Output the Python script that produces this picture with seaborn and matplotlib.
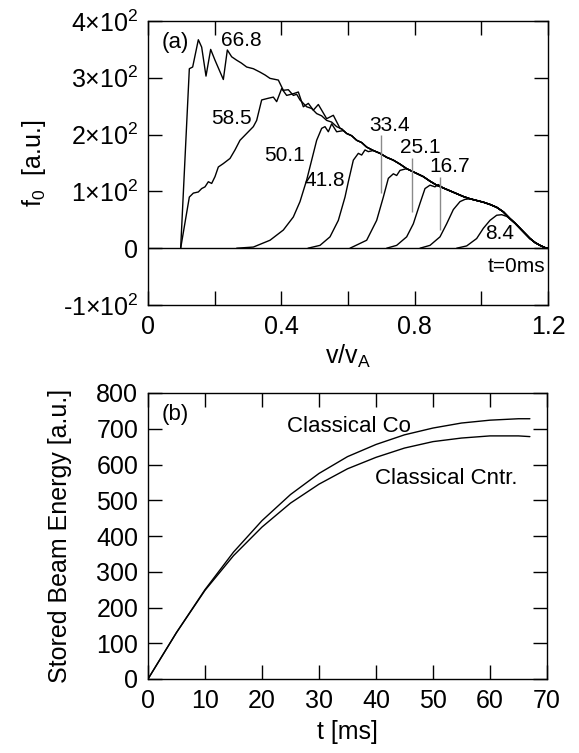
import matplotlib
matplotlib.use("Agg")
import matplotlib.pyplot as plt
import pandas as pd
import seaborn as sns

# ---------------- Panel (a): f0 vs v/vA at several times ----------------
# full 66.8 ms curve (also the common envelope that the other curves join)
env_668 = [(0.098, 0), (0.124, 316), (0.134, 319), (0.151, 367), (0.161, 354), (0.174, 303),
           (0.188, 350), (0.201, 331), (0.226, 297), (0.238, 349), (0.251, 337), (0.266, 331),
           (0.280, 326), (0.296, 319), (0.316, 316), (0.336, 310), (0.351, 305), (0.366, 299),
           (0.391, 296), (0.406, 278), (0.421, 279), (0.436, 269), (0.446, 271), (0.456, 261),
           (0.476, 249), (0.491, 246), (0.506, 237), (0.521, 233), (0.536, 225), (0.551, 222),
           (0.566, 214), (0.581, 210), (0.596, 202), (0.611, 198), (0.626, 190), (0.641, 186),
           (0.656, 178), (0.676, 172), (0.696, 167), (0.716, 160), (0.736, 155), (0.756, 148),
           (0.776, 140), (0.801, 133), (0.826, 126), (0.846, 118), (0.866, 111), (0.886, 106),
           (0.906, 101), (0.926, 96), (0.946, 91), (0.966, 87), (0.986, 84), (1.006, 81),
           (1.026, 77), (1.046, 72), (1.066, 64), (1.086, 52), (1.101, 44), (1.116, 35),
           (1.131, 26), (1.146, 17), (1.161, 10), (1.176, 5), (1.191, 1), (1.200, 0)]

rise_585 = [(0.098, 0), (0.124, 90), (0.136, 97), (0.151, 99), (0.161, 105), (0.171, 108),
            (0.181, 117), (0.191, 114), (0.201, 126), (0.211, 143), (0.226, 149), (0.246, 158),
            (0.261, 173), (0.276, 190), (0.296, 202), (0.316, 214), (0.326, 225), (0.341, 261),
            (0.361, 264), (0.376, 266), (0.386, 258), (0.401, 281), (0.416, 269), (0.436, 272),
            (0.451, 275), (0.466, 249), (0.481, 255), (0.496, 243), (0.511, 253), (0.536, 228),
            (0.556, 234), (0.576, 211)]
rise_501 = [(0.266, 0), (0.316, 2), (0.366, 14), (0.406, 32), (0.436, 55), (0.456, 82),
            (0.476, 120), (0.491, 155), (0.506, 190), (0.521, 211), (0.531, 214), (0.541, 205),
            (0.551, 219), (0.566, 205), (0.586, 207)]
rise_418 = [(0.480, 0), (0.516, 5), (0.546, 20), (0.571, 49), (0.591, 90), (0.601, 117),
            (0.616, 155), (0.631, 167), (0.641, 164), (0.651, 173), (0.661, 170)]
rise_334 = [(0.606, 0), (0.656, 14), (0.686, 49), (0.706, 90), (0.721, 123), (0.736, 131),
            (0.746, 128), (0.756, 137)]
rise_251 = [(0.716, 0), (0.746, 5), (0.776, 20), (0.796, 43), (0.816, 79), (0.831, 105),
            (0.846, 111), (0.861, 108), (0.871, 112)]
rise_167 = [(0.816, 0), (0.846, 5), (0.876, 20), (0.896, 43), (0.916, 68), (0.936, 82),
            (0.951, 86)]
rise_84 = [(0.926, 0), (0.956, 4), (0.986, 17), (1.006, 35), (1.026, 49), (1.046, 58),
           (1.061, 59), (1.076, 56)]
curve_0 = [(0.0, 0), (1.2, 0)]

time_labels = ["66.8", "58.5", "50.1", "41.8", "33.4", "25.1", "16.7", "8.4", "t=0ms"]
label_v = [0.281, 0.251, 0.411, 0.531, 0.726, 0.816, 0.906, 1.056, 1.192]
label_f = [366, 228, 164, 120, 216, 178, 143, 26, -33]

gray_v = [0.700, 0.793, 0.876]
gray_lo = [97, 64, 32]
gray_hi = [200, 158, 126]

# ---------------- Panel (b): stored beam energy ----------------
t_co = [0, 5, 10, 15, 20, 25, 30, 35, 40, 45, 50, 55, 60, 65, 67]
E_co = [0, 130, 250, 355, 443, 516, 575, 622, 656, 683, 702, 716, 724, 728, 728]
t_cntr = [0, 5, 10, 15, 20, 25, 30, 35, 40, 45, 50, 55, 60, 65, 67]
E_cntr = [0, 130, 248, 345, 425, 492, 545, 588, 620, 646, 664, 674, 680, 680, 678]


def join_env(rise):
    last = rise[-1][0]
    return rise + [p for p in env_668 if p[0] > last]


curves = {"66.8": env_668, "58.5": join_env(rise_585), "50.1": join_env(rise_501),
          "41.8": join_env(rise_418), "33.4": join_env(rise_334), "25.1": join_env(rise_251),
          "16.7": join_env(rise_167), "8.4": join_env(rise_84), "0": curve_0}
rows = []
for name, pts in curves.items():
    for v, f in pts:
        rows.append({"v": v, "f": f, "t": name})
df_a = pd.DataFrame(rows)

df_b = pd.concat([
    pd.DataFrame({"t": t_co, "E": E_co, "case": "Co"}),
    pd.DataFrame({"t": t_cntr, "E": E_cntr, "case": "Cntr"}),
])

sns.set_style("ticks")
plt.rcParams["font.family"] = ["Liberation Sans", "DejaVu Sans"]
plt.rcParams["mathtext.fontset"] = "custom"
plt.rcParams["mathtext.rm"] = "Liberation Sans"
plt.rcParams["mathtext.it"] = "Liberation Sans:italic"
plt.rcParams["mathtext.default"] = "regular"
for k in ("text.color", "axes.labelcolor", "xtick.color", "ytick.color", "axes.edgecolor"):
    plt.rcParams[k] = "black"

W, H = 579, 753
fig = plt.figure(figsize=(W / 100, H / 100), dpi=100)
axa = fig.add_axes([148 / W, 1 - 305 / H, 400 / W, 284 / H])
axb = fig.add_axes([148 / W, 1 - 679 / H, 399 / W, 286 / H])

ANN = 15
TICK = 18
LAB = 18

sns.lineplot(data=df_a, x="v", y="f", units="t", estimator=None, sort=False,
             color="black", lw=1.0, ax=axa, legend=False)
axa.vlines(gray_v, gray_lo, gray_hi, colors="#8a8a8a", lw=1.0)
for s, x, y in zip(time_labels[:-1], label_v[:-1], label_f[:-1]):
    axa.text(x, y, s, ha="center", va="center", fontsize=ANN)
axa.text(label_v[-1], label_f[-1], time_labels[-1], ha="right", va="center", fontsize=ANN)
axa.text(0.081, 363, "(a)", ha="center", va="center", fontsize=16)

axa.set_xlim(0, 1.2)
axa.set_ylim(-100, 400)
axa.set_xticks([0, 0.2, 0.4, 0.6, 0.8, 1.0, 1.2])
axa.set_xticklabels(["0", "", "0.4", "", "0.8", "", "1.2"])
axa.set_yticks([-100, 0, 100, 200, 300, 400])
axa.set_yticklabels(["-1×10$^2$", "0", "1×10$^2$", "2×10$^2$", "3×10$^2$", "4×10$^2$"])
axa.set_xlabel("v/v$_A$", fontsize=LAB)
axa.set_ylabel("f$_0$  [a.u.]", fontsize=LAB)
axa.yaxis.set_label_coords(-0.25, 0.5)
axa.xaxis.set_label_coords(0.5, -0.134)

sns.lineplot(data=df_b, x="t", y="E", units="case", estimator=None, sort=False,
             color="black", lw=1.0, ax=axb, legend=False)
axb.text(35.2, 707, "Classical Co", ha="center", va="center", fontsize=ANN + 1)
axb.text(52.4, 562, "Classical Cntr.", ha="center", va="center", fontsize=ANN + 1)
axb.text(4.7, 739, "(b)", ha="center", va="center", fontsize=16)
axb.set_xlim(0, 70)
axb.set_ylim(0, 800)
axb.set_xticks(range(0, 71, 10))
axb.set_yticks(range(0, 801, 100))
axb.set_xlabel("t [ms]", fontsize=LAB)
axb.set_ylabel("Stored Beam Energy [a.u.]", fontsize=LAB)
axb.yaxis.set_label_coords(-0.19, 0.5)
axb.xaxis.set_label_coords(0.5, -0.143)

for ax in (axa, axb):
    ax.tick_params(direction="in", length=10, width=1, top=True, right=True,
                   labelsize=TICK, pad=7, colors="black")
    for sp in ax.spines.values():
        sp.set_linewidth(1.0)
        sp.set_color("black")

fig.savefig("out.png", dpi=100)
